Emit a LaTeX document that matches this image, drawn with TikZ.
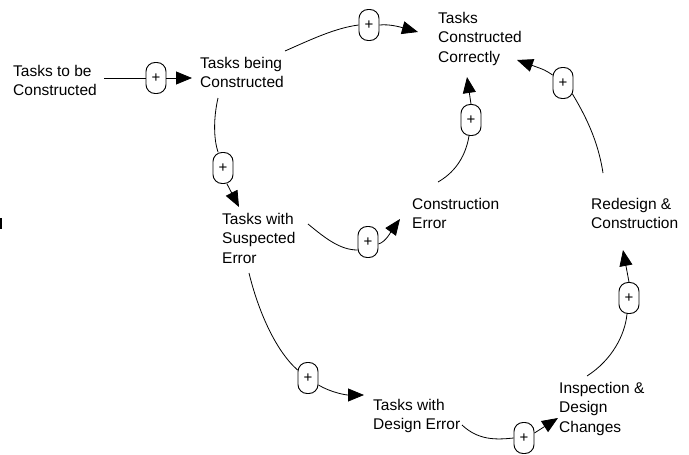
\documentclass[tikz,border=0pt]{standalone}
\usepackage{fontspec}
\setmainfont{Liberation Sans}
\usetikzlibrary{arrows.meta,calc}
\begin{document}
\begin{tikzpicture}[x=1pt,y=-1pt,
  txt/.style={font=\fontsize{15.5}{19.5}\selectfont, align=left, inner sep=0pt, anchor=north west},
  valve/.style={draw, line width=0.9pt, rectangle, rounded corners=9pt, minimum width=20pt, minimum height=31pt, inner sep=0pt, font=\fontsize{15}{15}\selectfont},
  flow/.style={line width=0.8pt},
  flowarr/.style={line width=0.8pt, -{Triangle[length=16pt,width=13pt]}}]
\useasboundingbox (0,0) rectangle (689,455);
\fill (0,218) rectangle (1.6,229);
% stocks
\node[txt] (tbc) at (13,65) {Tasks to be\\Constructed};
\node[txt] (tbeing) at (200,57) {Tasks being\\Constructed};
\node[txt] (tcc) at (438,12) {Tasks\\Constructed\\Correctly};
\node[txt] (cerr) at (412,198) {Construction\\Error};
\node[txt] (redes) at (591,198) {Redesign \&\\Construction};
\node[txt] (tsusp) at (222,213) {Tasks with\\Suspected\\Error};
\node[txt] (tdes) at (373,399) {Tasks with\\Design Error};
\node[txt] (insp) at (559,382) {Inspection \&\\Design\\Changes};
% valves
\node[valve] (v1) at (156,78) {+};
\node[valve] (v2) at (369,25) {+};
\node[valve] (v3) at (563,83) {+};
\node[valve] (v4) at (471,120) {+};
\node[valve] (v5) at (223,168) {+};
\node[valve] (v6) at (368,242) {+};
\node[valve] (v7) at (308,378) {+};
\node[valve] (v8) at (524,438) {+};
\node[valve] (v9) at (629,298) {+};
% connector end points
\coordinate (s1) at (104,78);   \coordinate (e1) at (192,78);
\coordinate (s2) at (285,51);   \coordinate (e2) at (418,32);
\coordinate (s3) at (218,98);   \coordinate (e3) at (239,207);
\coordinate (s4) at (308,224);  \coordinate (e4) at (400,219);
\coordinate (s5) at (438,182);  \coordinate (e5) at (467,77);
\coordinate (s6) at (249,273);  \coordinate (e6) at (364,395);
\coordinate (s7) at (462,425);  \coordinate (e7) at (558,418);
\coordinate (s8) at (587,376);  \coordinate (e8) at (623,250);
\coordinate (s9) at (603,173);  \coordinate (e9) at (517,60);
% flows
\draw[flow] (s1) -- (v1.west);
\draw[flowarr] (v1.east) -- (e1);
\draw[flow] (s2) .. controls (310,40) and (335,28) .. (v2.west);
\draw[flowarr] (v2.east) .. controls (390,24) and (400,27) .. (e2);
\draw[flow] (s3) .. controls (213,120) and (214,140) .. ($(v5.north)+(-5,0)$);
\draw[flowarr] ($(v5.south)+(4,0)$) -- (e3);
\draw[flow] (s4) .. controls (325,238) and (340,250) .. ($(v6.west)+(0,8)$);
\draw[flowarr] ($(v6.east)+(0,2)$) .. controls (386,242) and (392,230) .. (e4);
\draw[flow] (s5) .. controls (452,174) and (465,160) .. ($(v4.south)+(-2,0)$);
\draw[flowarr] (v4.north) -- (e5);
\draw[flow] (s6) .. controls (258,310) and (275,350) .. ($(v7.west)+(0,-8)$);
\draw[flowarr] ($(v7.east)+(0,7)$) .. controls (330,392) and (345,395) .. (e6);
\draw[flow] (s7) .. controls (478,440) and (495,440) .. (v8.west);
\draw[flowarr] ($(v8.east)+(0,-5)$) -- (e7);
\draw[flow] (s8) .. controls (612,360) and (625,335) .. ($(v9.south)+(-2,0)$);
\draw[flowarr] (v9.north) -- (e8);
\draw[flow] (s9) .. controls (598,140) and (585,115) .. ($(v3.east)+(-1,11)$);
\draw[flowarr] ($(v3.west)+(0,-8)$) .. controls (545,70) .. (e9);
\end{tikzpicture}
\end{document}
